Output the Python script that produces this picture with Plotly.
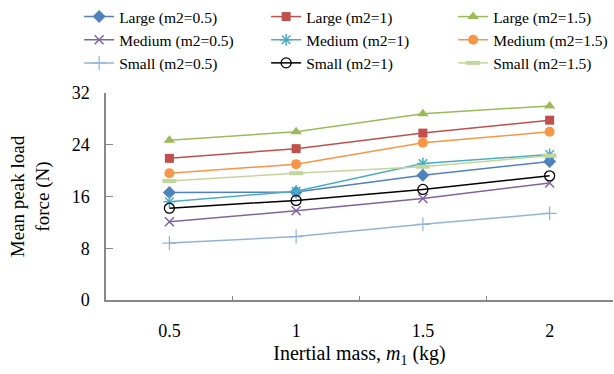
import plotly.graph_objects as go

categories = ["0.5", "1", "1.5", "2"]

large_05 = [16.6, 16.7, 19.3, 21.4]
large_1 = [21.9, 23.4, 25.8, 27.8]
large_15 = [24.7, 26.0, 28.8, 30.0]
medium_05 = [12.1, 13.8, 15.7, 18.1]
medium_1 = [15.2, 16.8, 21.1, 22.5]
medium_15 = [19.6, 21.0, 24.3, 26.0]
small_05 = [8.8, 9.8, 11.7, 13.4]
small_1 = [14.2, 15.4, 17.1, 19.2]
small_15 = [18.4, 19.6, 20.6, 22.3]

series = [
    ("Large (m2=0.5)", large_05, "#4F81BD", "diamond", 10, None),
    ("Large (m2=1)", large_1, "#C0504D", "square", 9, None),
    ("Large (m2=1.5)", large_15, "#9BBB59", "triangle-up", 10, None),
    ("Medium (m2=0.5)", medium_05, "#8064A2", "x-thin", 9, 1.5),
    ("Medium (m2=1)", medium_1, "#4BACC6", "asterisk", 10, 1.5),
    ("Medium (m2=1.5)", medium_15, "#F79646", "circle", 10, None),
    ("Small (m2=0.5)", small_05, "#95B3D7", "cross-thin", 10, 1.2),
    ("Small (m2=1)", small_1, "#000000", "circle-open", 10, 1.3),
    ("Small (m2=1.5)", small_15, "#C3D69B", "line-ew", 10, 4),
]

FONT = "Liberation Serif, Times New Roman, serif"

fig = go.Figure()
for i, (name, vals, color, sym, size, lw) in enumerate(series):
    marker = dict(symbol=sym, size=size, color=color)
    if lw is not None:
        marker["line"] = dict(color=color, width=lw)
    # last legend column gets a narrower entry so the legend box fits the page
    lwidth = 115 if i % 3 == 2 else 142
    fig.add_trace(go.Scatter(
        x=categories, y=vals, name=name, mode="lines+markers",
        line=dict(color=color, width=1.5), marker=marker,
        legendwidth=lwidth,
    ))

fig.update_layout(
    width=614, height=374,
    margin=dict(l=106, r=1, t=92, b=74),
    paper_bgcolor="white", plot_bgcolor="white",
    font=dict(family=FONT, size=16, color="black"),
    showlegend=True,
    legend=dict(
        orientation="h", x=-0.053, xanchor="left", y=1.445, yanchor="top",
        font=dict(family=FONT, size=15.5), tracegroupgap=0,
        bgcolor="rgba(0,0,0,0)",
    ),
)
fig.update_xaxes(
    type="category", range=[-0.5, 3.5], tickson="boundaries",
    ticks="inside", ticklen=4, tickcolor="#888888",
    showline=True, linecolor="#888888", linewidth=1.5,
    showgrid=False, zeroline=False,
    ticklabelstandoff=14,
    tickfont=dict(family=FONT, size=18),
    title=dict(text="Inertial mass, <i>m</i><sub>1</sub> (kg)",
               font=dict(family=FONT, size=20), standoff=6),
)
fig.update_yaxes(
    range=[0, 32], tickvals=[0, 8, 16, 24, 32],
    ticks="inside", ticklen=7, tickcolor="#888888",
    showline=True, linecolor="#888888", linewidth=1.5,
    showgrid=False, zeroline=False,
    ticklabelstandoff=11,
    tickfont=dict(family=FONT, size=18),
    title=dict(text="Mean peak load<br>force (N)",
               font=dict(family=FONT, size=19), standoff=17),
)

fig.write_html("out.html")
